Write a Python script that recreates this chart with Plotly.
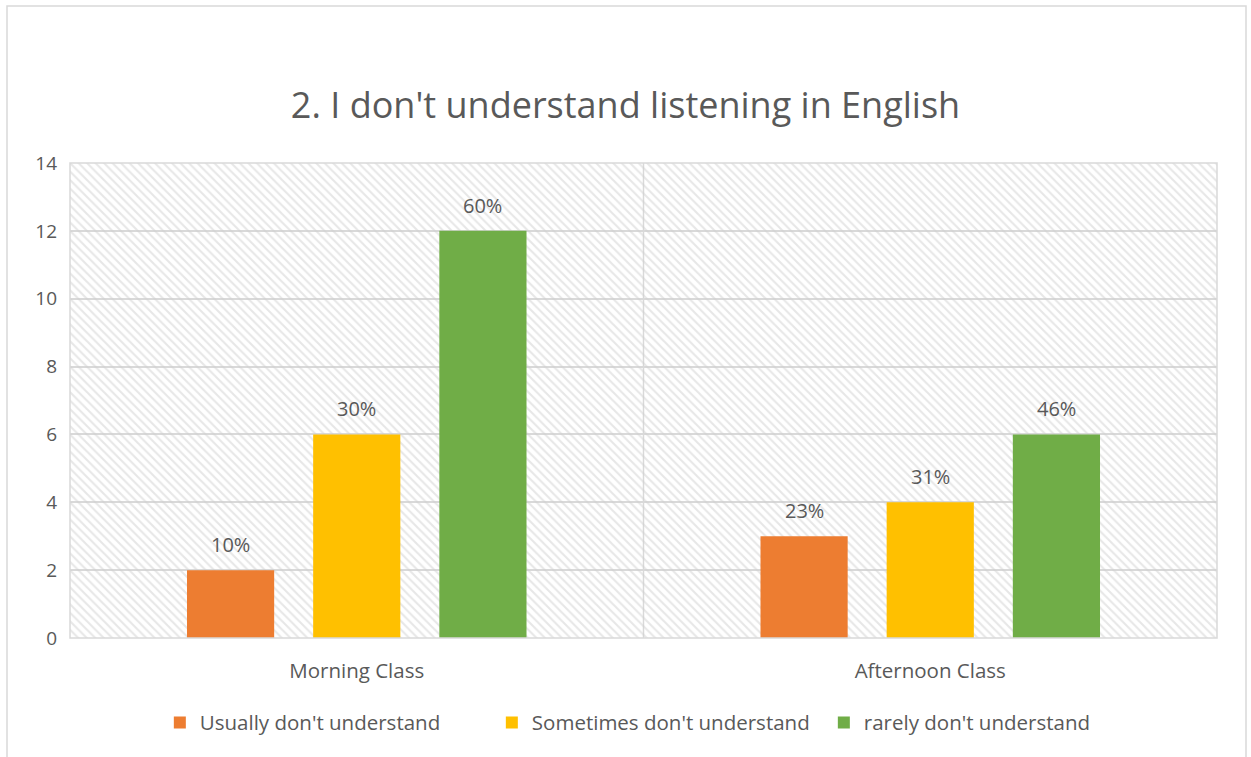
import plotly.graph_objects as go

# Chart data
categories = ["Morning Class", "Afternoon Class"]
series_names = ["Usually don't understand", "Sometimes don't understand", "rarely don't understand"]
usually = [2, 3]
sometimes = [6, 4]
rarely = [12, 6]
series_values = [usually, sometimes, rarely]
colors = ["#ED7D31", "#FFC000", "#70AD47"]
y_ticks = [0, 2, 4, 6, 8, 10, 12, 14]

TEXT = "#595959"
GRID = "#d9d9d9"
FONT = "Open Sans"

# Geometry of each grouped bar (in category units)
bar_w = 0.152
slot = 0.22

x_pos = list(range(len(categories)))
totals = [sum(s[i] for s in series_values) for i in x_pos]

fig = go.Figure()

# Hatched plot-area background
fig.add_trace(go.Bar(
    x=[(x_pos[0] + x_pos[-1]) / 2], y=[y_ticks[-1]], width=[len(categories)],
    marker=dict(color="rgba(0,0,0,0)", line=dict(width=0),
                pattern=dict(shape="\\", fgcolor="#cfcfcf", bgcolor="rgba(0,0,0,0)",
                             size=6, solidity=0.35)),
    showlegend=False, hoverinfo="skip"))

annotations = []
for k, (name, vals, col) in enumerate(zip(series_names, series_values, colors)):
    off = (k - 1) * slot - bar_w / 2
    fig.add_trace(go.Bar(
        name=name, x=x_pos, y=vals, width=bar_w, offset=off,
        marker=dict(color=col, line=dict(width=0))))
    for i, v in enumerate(vals):
        pct = round(v / totals[i] * 100)
        annotations.append(dict(
            x=x_pos[i] + off + bar_w / 2, y=v, xref="x", yref="y",
            text=f"{pct}%", showarrow=False, yanchor="bottom", yshift=10,
            font=dict(family=FONT, size=20, color=TEXT)))

fig.update_layout(
    width=1251, height=757,
    margin=dict(l=70, r=34, t=163, b=119),
    paper_bgcolor="white", plot_bgcolor="white",
    barmode="overlay",
    title=dict(text="2. I don't understand listening in English",
               x=0.5, xanchor="center", xref="container", y=1 - 105 / 757, yanchor="middle",
               font=dict(family=FONT, size=36, color=TEXT)),
    xaxis=dict(range=[-0.5, len(categories) - 0.5], tickvals=x_pos, ticktext=categories,
               showgrid=False, zeroline=False, showline=False, ticks="",
               tickfont=dict(family=FONT, size=20.5, color=TEXT), ticklabelstandoff=18),
    yaxis=dict(range=[y_ticks[0], y_ticks[-1]], tickvals=y_ticks, showgrid=True,
               gridcolor=GRID, gridwidth=1.5, zeroline=False, showline=False, ticks="",
               tickfont=dict(family=FONT, size=19, color=TEXT), ticklabelstandoff=12),
    legend=dict(orientation="h", x=0.5125, xanchor="center", y=-0.178, yanchor="middle",
                font=dict(family=FONT, size=20.5, color=TEXT), traceorder="normal",
                itemwidth=30, entrywidth=287, entrywidthmode="pixels"),
    annotations=annotations,
    shapes=[
        # plot-area frame
        dict(type="rect", xref="paper", yref="paper", x0=0, x1=1, y0=0, y1=1,
             line=dict(color=GRID, width=1.5), layer="above"),
        # divider between the two categories
        dict(type="line", xref="paper", yref="paper", x0=0.5, x1=0.5, y0=0, y1=1,
             line=dict(color=GRID, width=1.5), layer="below"),
        # outer chart border
        dict(type="rect", xref="paper", yref="paper",
             x0=(7 - 70) / 1147, x1=(1246 - 70) / 1147,
             y0=(638 - 800) / 475, y1=(638 - 6) / 475,
             line=dict(color=GRID, width=1.5), layer="above"),
    ],
)

fig.write_html("out.html")
